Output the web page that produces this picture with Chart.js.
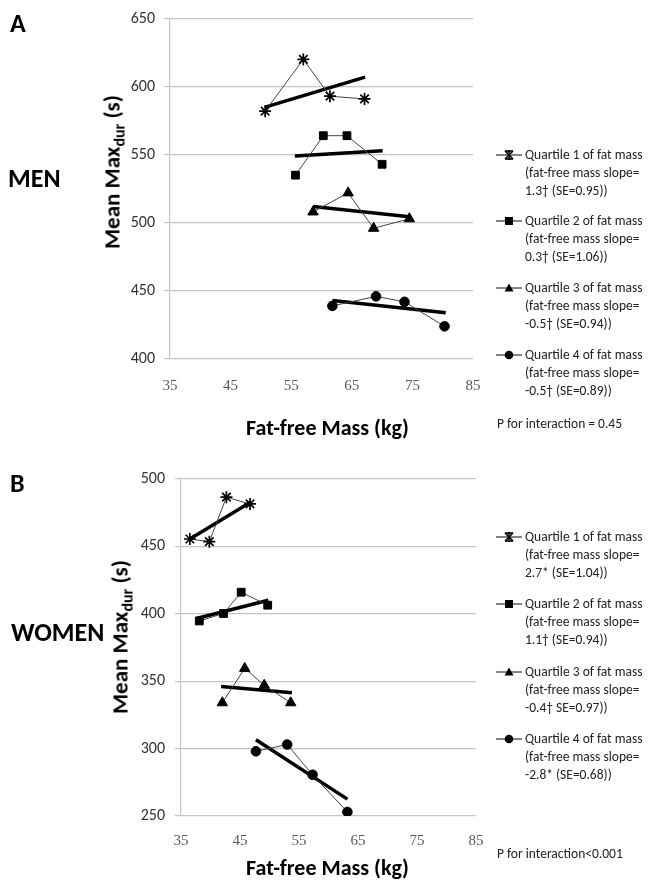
<!DOCTYPE html>
<html>
<head>
<meta charset="utf-8">
<script src="https://cdn.jsdelivr.net/npm/chart.js@4.4.1/dist/chart.umd.min.js"></script>
<style>
  body { margin:0; background:#fff; width:651px; height:882px; position:relative; overflow:hidden;
         font-family: Carlito, Lato, "Open Sans", sans-serif; color:#000; }
  .abs { position:absolute; white-space:nowrap; }
  .panel { font-weight:bold; font-size:26px; line-height:26px; }
  .group { font-weight:bold; font-size:26px; line-height:26px; }
  .ytitle { font-weight:bold; font-size:23px; transform:translate(-50%,-50%) rotate(-90deg); }
  .ytitle sub { font-size:16px; vertical-align:-5px; }
  .xtitle { font-weight:bold; font-size:22px; line-height:24px; }
  .pint { font-size:13.5px; color:#222; }
  .leg { font-size:13.5px; line-height:18px; color:#222; display:flex; }
  .leg svg { flex:none; margin-right:2px; }
  #c1 { position:absolute; left:0; top:0; }
  #c2 { position:absolute; left:0; top:440px; }
</style>
</head>
<body>
<canvas id="c1" width="651" height="440"></canvas>
<canvas id="c2" width="651" height="442"></canvas>

<div class="abs panel" style="left:10px;top:10px">A</div>
<div class="abs group" style="left:8px;top:165px">MEN</div>
<div class="abs ytitle" style="left:113px;top:172px">Mean Max<sub>dur</sub> (s)</div>
<div class="abs xtitle" style="left:246px;top:416px">Fat-free Mass (kg)</div>
<div class="abs pint" style="left:497px;top:415px">P for interaction = 0.45</div>
<div id="legMen"></div>

<div class="abs panel" style="left:10px;top:470px">B</div>
<div class="abs group" style="left:11px;top:619px">WOMEN</div>
<div class="abs ytitle" style="left:121px;top:637px">Mean Max<sub>dur</sub> (s)</div>
<div class="abs xtitle" style="left:246px;top:856px">Fat-free Mass (kg)</div>
<div class="abs pint" style="left:497px;top:845px">P for interaction&lt;0.001</div>
<div id="legWomen"></div>

<script>
// tick values
const xTickValues = [35, 45, 55, 65, 75, 85];
const menYTicks = [400, 450, 500, 550, 600, 650];
const womenYTicks = [250, 300, 350, 400, 450, 500];

// MEN - mean values by quartile of fat-free mass, per quartile of fat mass
const menQ1X = [50.7, 57.0, 61.4, 67.1];
const menQ1Y = [582, 620, 593, 591];
const menQ1TrendX = [50.7, 67.2];
const menQ1TrendY = [585, 607];

const menQ2X = [55.7, 60.3, 64.2, 70.0];
const menQ2Y = [535, 564, 564, 543];
const menQ2TrendX = [55.6, 70.1];
const menQ2TrendY = [549, 553];

const menQ3X = [58.6, 64.4, 68.6, 74.5];
const menQ3Y = [508, 522, 496, 503];
const menQ3TrendX = [58.6, 74.5];
const menQ3TrendY = [512, 504.5];

const menQ4X = [61.8, 69.0, 73.7, 80.3];
const menQ4Y = [439, 446, 442, 424];
const menQ4TrendX = [61.8, 80.5];
const menQ4TrendY = [443, 434];

// WOMEN
const womenQ1X = [36.5, 39.8, 42.7, 46.7];
const womenQ1Y = [455.5, 453.5, 486.5, 481.5];
const womenQ1TrendX = [36.5, 46.7];
const womenQ1TrendY = [455.5, 482.5];

const womenQ2X = [38.1, 42.2, 45.2, 49.7];
const womenQ2Y = [394.7, 400.2, 416, 406.4];
const womenQ2TrendX = [37.6, 49.8];
const womenQ2TrendY = [396.5, 410];

const womenQ3X = [42.0, 45.8, 49.1, 53.6];
const womenQ3Y = [334, 359.5, 347, 334];
const womenQ3TrendX = [41.8, 53.8];
const womenQ3TrendY = [346, 341.5];

const womenQ4X = [47.7, 53.0, 57.3, 63.2];
const womenQ4Y = [298, 303, 280.6, 253];
const womenQ4TrendX = [47.7, 63.2];
const womenQ4TrendY = [306.5, 262.5];

const menLegend = [
  ["Quartile 1 of fat mass", "(fat-free mass slope=", "1.3\u2020 (SE=0.95))"],
  ["Quartile 2 of fat mass", "(fat-free mass slope=", "0.3\u2020 (SE=1.06))"],
  ["Quartile 3 of fat mass", "(fat-free mass slope=", "-0.5\u2020 (SE=0.94))"],
  ["Quartile 4 of fat mass", "(fat-free mass slope=", "-0.5\u2020 (SE=0.89))"]
];
const womenLegend = [
  ["Quartile 1 of fat mass", "(fat-free mass slope=", "2.7* (SE=1.04))"],
  ["Quartile 2 of fat mass", "(fat-free mass slope=", "1.1\u2020 (SE=0.94))"],
  ["Quartile 3 of fat mass", "(fat-free mass slope=", "-0.4\u2020 SE=0.97))"],
  ["Quartile 4 of fat mass", "(fat-free mass slope=", "-2.8* (SE=0.68))"]
];

const markers = ['star', 'rect', 'triangle', 'circle'];
const markerRadius = [6, 5.5, 6, 4.8];

function pts(xs, ys) {
  return xs.map((x, i) => ({ x: x, y: ys[i] }));
}

function buildDatasets(series) {
  let ds = [];
  series.forEach((s, i) => {
    ds.push({
      data: pts(s[0], s[1]),
      showLine: true,
      borderColor: '#444',
      borderWidth: 1,
      pointStyle: markers[i],
      pointRadius: markerRadius[i],
      pointBackgroundColor: '#000',
      pointBorderColor: '#000',
      pointBorderWidth: markers[i] == 'star' ? 1.7 : 1
    });
    ds.push({
      data: pts(s[2], s[3]),
      showLine: true,
      borderColor: '#000',
      borderWidth: 3.5,
      pointRadius: 0
    });
  });
  return ds;
}

function makeChart(id, series, yTicks, box) {
  const ctx = document.getElementById(id);
  return new Chart(ctx, {
    type: 'scatter',
    data: { datasets: buildDatasets(series) },
    options: {
      responsive: false,
      animation: false,
      layout: { autoPadding: false, padding: { top: box.top, right: box.right, left: 0, bottom: 0 } },
      plugins: { legend: { display: false }, tooltip: { enabled: false } },
      scales: {
        x: {
          type: 'linear',
          min: xTickValues[0],
          max: xTickValues[xTickValues.length - 1],
          afterBuildTicks: s => { s.ticks = xTickValues.map(v => ({ value: v })); },
          afterFit: s => { s.height = box.xHeight; },
          grid: { display: false, drawTicks: false },
          border: { display: false },
          ticks: { padding: box.xPad, color: '#5a5a5a', font: { family: '"Liberation Serif", "DejaVu Serif", serif', size: 15 } }
        },
        y: {
          min: yTicks[0],
          max: yTicks[yTicks.length - 1],
          afterBuildTicks: s => { s.ticks = yTicks.map(v => ({ value: v })); },
          afterFit: s => { s.width = box.left; },
          grid: { color: '#c4c4c4', lineWidth: 1.2, tickLength: 6 },
          border: { color: '#c4c4c4', width: 1.2 },
          ticks: { padding: box.yPad, color: '#333', font: { family: 'Carlito, Lato, sans-serif', size: 16 } }
        }
      }
    }
  });
}

makeChart('c1', [
  [menQ1X, menQ1Y, menQ1TrendX, menQ1TrendY],
  [menQ2X, menQ2Y, menQ2TrendX, menQ2TrendY],
  [menQ3X, menQ3Y, menQ3TrendX, menQ3TrendY],
  [menQ4X, menQ4Y, menQ4TrendX, menQ4TrendY]
], menYTicks, { top: 17, right: 178, left: 170, xHeight: 81, xPad: 18, yPad: 9 });

makeChart('c2', [
  [womenQ1X, womenQ1Y, womenQ1TrendX, womenQ1TrendY],
  [womenQ2X, womenQ2Y, womenQ2TrendX, womenQ2TrendY],
  [womenQ3X, womenQ3Y, womenQ3TrendX, womenQ3TrendY],
  [womenQ4X, womenQ4Y, womenQ4TrendX, womenQ4TrendY]
], womenYTicks, { top: 39, right: 175, left: 181, xHeight: 66, xPad: 16, yPad: 10 });

// legend markers drawn as small svgs
function markerSvg(i) {
  let m = '';
  const cx = 13, cy = 9;
  if (markers[i] == 'star') {
    m = '<g stroke="#000" stroke-width="1.6"><line x1="9" y1="5" x2="17" y2="13"/><line x1="17" y1="5" x2="9" y2="13"/>' +
        '<line x1="13" y1="4" x2="13" y2="14"/><line x1="9" y1="5" x2="17" y2="5"/><line x1="9" y1="13" x2="17" y2="13"/></g>';
  } else if (markers[i] == 'rect') {
    m = '<rect x="9" y="5" width="8" height="8" fill="#000"/>';
  } else if (markers[i] == 'triangle') {
    m = '<polygon points="13,4.5 17.5,12.5 8.5,12.5" fill="#000"/>';
  } else {
    m = '<circle cx="' + cx + '" cy="' + cy + '" r="4.3" fill="#000"/>';
  }
  return '<svg width="27" height="18"><line x1="0" y1="9" x2="26" y2="9" stroke="#333" stroke-width="1.2"/>' + m + '</svg>';
}

function buildLegend(id, labels, tops) {
  const el = document.getElementById(id);
  labels.forEach((lines, i) => {
    const d = document.createElement('div');
    d.className = 'abs leg';
    d.style.left = '496px';
    d.style.top = (tops[i] - 9) + 'px';
    d.innerHTML = markerSvg(i) + '<div>' + lines.join('<br>') + '</div>';
    el.appendChild(d);
  });
}

buildLegend('legMen', menLegend, [155, 221, 288, 355]);
buildLegend('legWomen', womenLegend, [537, 604, 672, 739]);
</script>
</body>
</html>
